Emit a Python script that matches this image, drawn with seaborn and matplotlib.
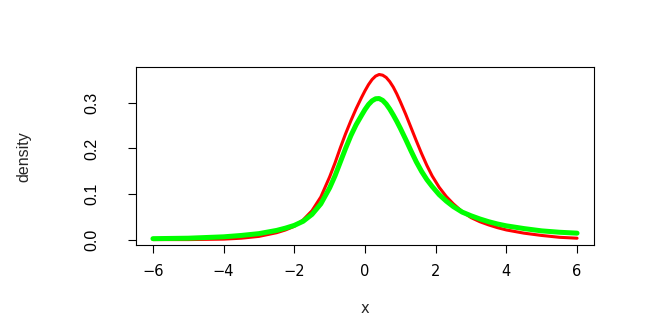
import numpy as np
import pandas as pd
import matplotlib
matplotlib.use("Agg")
import matplotlib.pyplot as plt
import seaborn as sns

sns.set_style("white")
plt.rcParams['font.family'] = ['Liberation Sans', 'DejaVu Sans']

# values
red_x = [-6, -5, -4, -3.5, -3, -2.5, -2.25, -2, -1.75, -1.5, -1.25, -1.0, -0.85,
         -0.7, -0.55, -0.4, -0.25, -0.1, 0.0, 0.1, 0.2, 0.3, 0.4, 0.5, 0.6, 0.7,
         0.8, 0.9, 1.0, 1.15, 1.3, 1.45, 1.6, 1.75, 1.9, 2.1, 2.3, 2.5, 2.75,
         3.0, 3.25, 3.5, 3.75, 4.0, 4.5, 5.0, 5.5, 6.0]
red_y = [0.001, 0.001, 0.002, 0.004, 0.008, 0.016, 0.022, 0.030, 0.044, 0.064,
         0.094, 0.138, 0.168, 0.201, 0.232, 0.2605, 0.287, 0.311, 0.326, 0.3395,
         0.3505, 0.358, 0.3615, 0.360, 0.355, 0.346, 0.334, 0.319, 0.302, 0.275,
         0.246, 0.217, 0.189, 0.163, 0.140, 0.115, 0.095, 0.079, 0.062, 0.049,
         0.040, 0.033, 0.027, 0.022, 0.015, 0.010, 0.006, 0.004]

green_x = [-6, -5, -4, -3.5, -3, -2.5, -2.25, -2, -1.75, -1.5, -1.25, -1.0, -0.85,
           -0.7, -0.55, -0.4, -0.25, -0.1, 0.0, 0.1, 0.2, 0.3, 0.4, 0.5, 0.6, 0.7,
           0.8, 0.9, 1.0, 1.15, 1.3, 1.45, 1.6, 1.75, 1.9, 2.1, 2.3, 2.5, 2.75,
           3.0, 3.25, 3.5, 3.75, 4.0, 4.5, 5.0, 5.5, 6.0]
green_y = [0.003, 0.004, 0.007, 0.010, 0.014, 0.021, 0.026, 0.032, 0.041, 0.056,
           0.079, 0.114, 0.140, 0.170, 0.200, 0.228, 0.252, 0.272, 0.285, 0.296,
           0.304, 0.3085, 0.309, 0.305, 0.297, 0.286, 0.273, 0.259, 0.244, 0.220,
           0.195, 0.171, 0.150, 0.132, 0.117, 0.099, 0.085, 0.073, 0.061, 0.053,
           0.046, 0.040, 0.035, 0.031, 0.025, 0.020, 0.017, 0.015]

x_ticks = [-6, -4, -2, 0, 2, 4, 6]
y_ticks = [0.0, 0.1, 0.2, 0.3]

red_df = pd.DataFrame({"x": red_x, "density": red_y})
green_df = pd.DataFrame({"x": green_x, "density": green_y})

fig = plt.figure(figsize=(6.64, 3.32), dpi=100)
ax = fig.add_axes([0.2048, 0.261, 0.6898, 0.536])

sns.lineplot(data=red_df, x="x", y="density", color="#FF0000", linewidth=2.2, ax=ax)
sns.lineplot(data=green_df, x="x", y="density", color="#00FF00", linewidth=3.6, ax=ax)

narrow = ['Liberation Sans Narrow', 'Liberation Sans']

ax.set_xlim(-6.48, 6.48)
ax.set_ylim(-0.0116, 0.377)
ax.set_xticks(x_ticks)
ax.set_xticklabels(["\u2212" + str(-t) if t < 0 else str(t) for t in x_ticks],
                   fontsize=10.5, family=['DejaVu Sans'])
ax.set_yticks(y_ticks)
ax.set_yticklabels([f"{t:.1f}" for t in y_ticks], rotation=90, va="center",
                   fontsize=11.5, family=narrow)

for s in ax.spines.values():
    s.set_color("black")
    s.set_linewidth(0.8)
ax.tick_params(axis="both", direction="out", length=5.5, width=0.8, color="black",
               bottom=True, left=True, labelcolor="black")
ax.tick_params(axis="x", pad=8)
ax.tick_params(axis="y", pad=21)

ax.set_xlabel("x", fontsize=10.5, labelpad=16, family=['DejaVu Sans'])
ax.set_ylabel("density", fontsize=11.5, labelpad=38, family=narrow)

fig.savefig("out.png", dpi=100)
